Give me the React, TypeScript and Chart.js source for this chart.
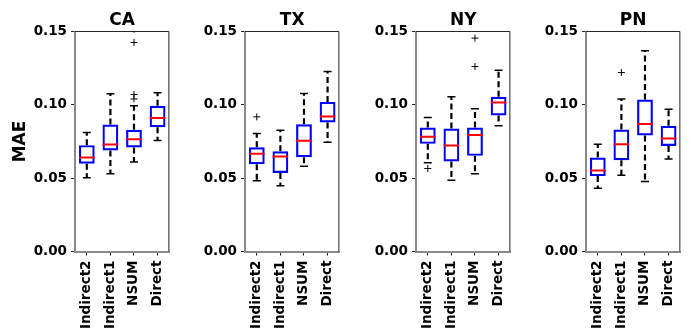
import React, { useEffect, useRef } from 'react';
import { Chart, registerables } from 'chart.js';

Chart.register(...registerables);

const regions = ['CA', 'TX', 'NY', 'PN'];
const categories = ['Indirect2', 'Indirect1', 'NSUM', 'Direct'];
const yTicks = [0, 0.05, 0.1, 0.15];

// per region: [Indirect2, Indirect1, NSUM, Direct]
const whiskerLow = [
  [0.0502, 0.053, 0.0611, 0.0757],
  [0.0482, 0.0448, 0.0582, 0.0745],
  [0.0605, 0.0486, 0.053, 0.0857],
  [0.0432, 0.052, 0.0477, 0.063],
];
const q1 = [
  [0.0598, 0.0689, 0.0709, 0.0848],
  [0.0595, 0.0536, 0.0643, 0.088],
  [0.0734, 0.0614, 0.0652, 0.0927],
  [0.0514, 0.0623, 0.0791, 0.072],
];
const median = [
  [0.0641, 0.073, 0.0766, 0.0911],
  [0.0666, 0.0648, 0.0755, 0.092],
  [0.0782, 0.0723, 0.0795, 0.1016],
  [0.0552, 0.0732, 0.087, 0.077],
];
const q3 = [
  [0.0725, 0.0866, 0.083, 0.0993],
  [0.0711, 0.0684, 0.0868, 0.102],
  [0.0845, 0.0839, 0.0845, 0.1055],
  [0.0641, 0.0832, 0.1036, 0.0857],
];
const whiskerHigh = [
  [0.0811, 0.1075, 0.0993, 0.1082],
  [0.0805, 0.0827, 0.1077, 0.1227],
  [0.0914, 0.1055, 0.0973, 0.1236],
  [0.0732, 0.1039, 0.1368, 0.097],
];
const outliers = [
  [[], [], [0.1515, 0.1425, 0.107, 0.104], []],
  [[0.0918], [], [], []],
  [[0.0566], [], [0.1455, 0.1261], []],
  [[], [0.122], [], []],
];

const canvasLeft = [0, 170, 341, 511];
const CANVAS_W = 180;
const CANVAS_H = 331;

Chart.defaults.font.family = "'DejaVu Sans', sans-serif";

function Panel({ idx }: { idx: number }) {
  const ref = useRef<HTMLCanvasElement | null>(null);

  useEffect(() => {
    const canvas = ref.current;
    if (!canvas) return;

    const outlierPts: { x: string; y: number }[] = [];
    outliers[idx].forEach((arr, ci) => {
      arr.forEach((v) => outlierPts.push({ x: categories[ci], y: v }));
    });

    const whiskerPlugin = {
      id: 'whiskers',
      beforeDatasetsDraw(chart: any) {
        const { ctx, scales, chartArea } = chart;
        const xs = scales.x;
        const ys = scales.y;
        ctx.save();
        ctx.beginPath();
        ctx.rect(chartArea.left, chartArea.top, chartArea.right - chartArea.left, chartArea.bottom - chartArea.top);
        ctx.clip();
        ctx.strokeStyle = '#000';
        ctx.lineWidth = 2.2;
        ctx.setLineDash([6, 3.5]);
        categories.forEach((_, ci) => {
          const x = xs.getPixelForValue(ci);
          ctx.beginPath();
          ctx.moveTo(x, ys.getPixelForValue(q3[idx][ci]));
          ctx.lineTo(x, ys.getPixelForValue(whiskerHigh[idx][ci]));
          ctx.stroke();
          ctx.beginPath();
          ctx.moveTo(x, ys.getPixelForValue(q1[idx][ci]));
          ctx.lineTo(x, ys.getPixelForValue(whiskerLow[idx][ci]));
          ctx.stroke();
        });
        ctx.restore();
      },
    };

    const framePlugin = {
      id: 'frame',
      afterDraw(chart: any) {
        const { ctx, chartArea } = chart;
        ctx.save();
        ctx.strokeStyle = '#262626';
        ctx.lineWidth = 1;
        ctx.setLineDash([]);
        ctx.beginPath();
        ctx.moveTo(chartArea.left, chartArea.top);
        ctx.lineTo(chartArea.right - 0.5, chartArea.top);
        ctx.lineTo(chartArea.right - 0.5, chartArea.bottom);
        ctx.stroke();
        // panel title, centred over the plot area
        ctx.fillStyle = '#000';
        ctx.font = "bold 17px 'DejaVu Sans', sans-serif";
        ctx.textAlign = 'center';
        ctx.textBaseline = 'middle';
        ctx.fillText(regions[idx], (chartArea.left + chartArea.right) / 2, 21);
        ctx.restore();
      },
    };

    const chart = new Chart(canvas, {
      type: 'bar',
      data: {
        labels: categories,
        datasets: [
          {
            type: 'bar',
            data: categories.map((_, ci) => [q1[idx][ci], q3[idx][ci]]) as any,
            backgroundColor: 'rgba(0,0,0,0)',
            borderColor: '#0000ff',
            borderWidth: 2.2,
            borderSkipped: false,
            categoryPercentage: 1,
            barPercentage: 0.67,
            order: 2,
          } as any,
          {
            type: 'line',
            data: median[idx],
            showLine: false,
            pointStyle: 'line',
            pointRadius: 7.8,
            pointBorderColor: '#ff0000',
            pointBorderWidth: 2,
            order: 1,
          } as any,
          {
            type: 'line',
            data: whiskerHigh[idx],
            showLine: false,
            pointStyle: 'line',
            pointRadius: 4,
            pointBorderColor: '#000',
            pointBorderWidth: 1.5,
            order: 1,
          } as any,
          {
            type: 'line',
            data: whiskerLow[idx],
            showLine: false,
            pointStyle: 'line',
            pointRadius: 4,
            pointBorderColor: '#000',
            pointBorderWidth: 1.5,
            order: 1,
          } as any,
          {
            type: 'line',
            data: outlierPts,
            showLine: false,
            pointStyle: 'cross',
            pointRadius: 3.5,
            pointBorderColor: '#000',
            pointBorderWidth: 1,
            clip: 0,
            order: 1,
          } as any,
        ],
      },
      options: {
        animation: false,
        responsive: false,
        devicePixelRatio: 1,
        events: [],
        layout: { padding: { left: 0, right: 4, top: 31.5, bottom: 0 } },
        plugins: {
          legend: { display: false },
          tooltip: { enabled: false },
          title: { display: false },
        },
        scales: {
          x: {
            type: 'category',
            offset: true,
            grid: { display: true, drawOnChartArea: false, drawTicks: true, tickLength: 4, tickColor: '#222', offset: false },
            border: { display: true, color: '#8a8a8a', width: 2 },
            ticks: {
              color: '#000',
              font: { size: 13.5, weight: 'bold' },
              minRotation: 90,
              maxRotation: 90,
              autoSkip: false,
              padding: 5,
            },
            afterFit: (s: any) => {
              s.height = 79.5;
            },
          },
          y: {
            min: 0,
            max: 0.15,
            grid: { display: true, drawOnChartArea: false, drawTicks: true, tickLength: 4, tickColor: '#222' },
            border: { display: true, color: '#8a8a8a', width: 2 },
            ticks: {
              color: '#000',
              font: { size: 13.5, weight: 'bold' },
              padding: 4,
              callback: (v: any) => Number(v).toFixed(2),
            },
            afterBuildTicks: (s: any) => {
              s.ticks = yTicks.map((v) => ({ value: v }));
            },
            title: {
              display: idx === 0,
              text: 'MAE',
              color: '#000',
              font: { size: 17, weight: 'bold' },
              padding: { top: 10, bottom: 0 },
            },
            afterFit: (s: any) => {
              s.width = 75;
            },
          },
        },
      } as any,
      plugins: [whiskerPlugin, framePlugin],
    });

    return () => chart.destroy();
  }, [idx]);

  return (
    <canvas
      ref={ref}
      width={CANVAS_W}
      height={CANVAS_H}
      style={{ position: 'absolute', left: canvasLeft[idx], top: 0, width: CANVAS_W, height: CANVAS_H }}
    />
  );
}

export default function App() {
  return (
    <div style={{ position: 'fixed', left: 0, top: 0, width: 692, height: 331, background: '#fff', overflow: 'hidden' }}>
      {regions.map((_, i) => (
        <Panel key={i} idx={i} />
      ))}
    </div>
  );
}
